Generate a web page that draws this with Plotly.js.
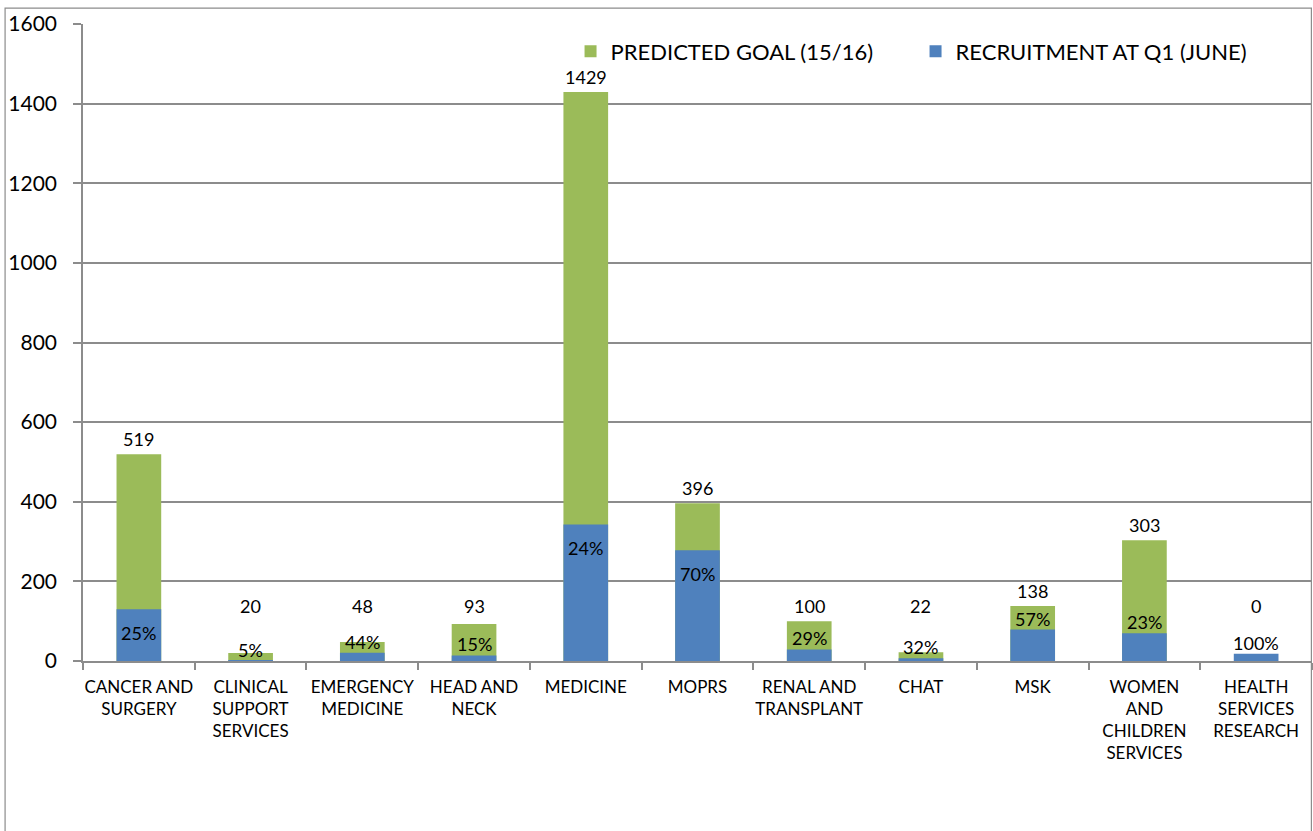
<!DOCTYPE html>
<html>
<head>
<meta charset="utf-8">
<script src="https://cdn.plot.ly/plotly-3.0.1.min.js"></script>
<style>html,body{margin:0;padding:0;background:#fff;}#chart{width:1313px;height:831px;}</style>
</head>
<body>
<div id="chart"></div>
<script>
const categories = ["CANCER AND SURGERY","CLINICAL SUPPORT SERVICES","EMERGENCY MEDICINE","HEAD AND NECK","MEDICINE","MOPRS","RENAL AND TRANSPLANT","CHAT","MSK","WOMEN AND CHILDREN SERVICES","HEALTH SERVICES RESEARCH"];
const tickLabels = ["CANCER AND<br>SURGERY","CLINICAL<br>SUPPORT<br>SERVICES","EMERGENCY<br>MEDICINE","HEAD AND<br>NECK","MEDICINE","MOPRS","RENAL AND<br>TRANSPLANT","CHAT","MSK","WOMEN<br>AND<br>CHILDREN<br>SERVICES","HEALTH<br>SERVICES<br>RESEARCH"];
const predictedGoal = [519, 20, 48, 93, 1429, 396, 100, 22, 138, 303, 0];
const recruitmentQ1 = [130, 1, 21, 14, 343, 278, 29, 7, 79, 70, 18];
const percentLabels = ["25%","5%","44%","15%","24%","70%","29%","32%","57%","23%","100%"];

const GREEN = "#9BBB59", BLUE = "#4F81BD";
const FONT = "Lato, 'Open Sans', sans-serif";

const traces = [
  {type:"bar", name:"PREDICTED GOAL (15/16)", x:categories, y:predictedGoal, width:0.4,
   marker:{color:GREEN}, hoverinfo:"x+y"},
  {type:"bar", name:"RECRUITMENT AT Q1 (JUNE)", x:categories, y:recruitmentQ1, width:0.4,
   marker:{color:BLUE}, hoverinfo:"x+y"}
];

const annotations = [];
categories.forEach((c, i) => {
  annotations.push({x:c, y:Math.max(predictedGoal[i], 100), text:String(predictedGoal[i]),
    showarrow:false, yanchor:"bottom", yshift:2, font:{family:FONT, size:18, color:"#000"}});
  const big = recruitmentQ1[i] >= 100;
  annotations.push({x:c, y:recruitmentQ1[i], text:percentLabels[i], showarrow:false,
    yanchor: big ? "top" : "middle", yshift: big ? -11 : 11,
    font:{family:FONT, size:18, color:"#000"}});
});

const layout = {
  width:1313, height:831,
  margin:{l:83, r:1, t:24, b:170},
  barmode:"overlay",
  paper_bgcolor:"#fff", plot_bgcolor:"#fff",
  font:{family:FONT, color:"#000"},
  showlegend:true,
  legend:{orientation:"h", x:0.3967, xanchor:"left", y:0.957, yanchor:"middle",
    entrywidth:300, entrywidthmode:"pixels",
    font:{family:FONT, size:22, color:"#000"}, bgcolor:"rgba(0,0,0,0)", traceorder:"normal"},
  xaxis:{type:"category", categoryorder:"array", categoryarray:categories,
    tickvals:categories, ticktext:tickLabels, tickson:"boundaries",
    ticks:"outside", ticklen:7, tickcolor:"#8c8c8c", tickwidth:1.5, ticklabelstandoff:10,
    showline:true, linecolor:"#8c8c8c", linewidth:1.5, showgrid:false,
    tickfont:{family:FONT, size:17, color:"#000"}, tickangle:0, automargin:false},
  yaxis:{range:[0,1600], dtick:200, tick0:0, showgrid:true, gridcolor:"#8c8c8c", gridwidth:1.5,
    zeroline:false, showline:true, linecolor:"#8c8c8c", linewidth:1.5,
    ticks:"outside", ticklen:8, tickcolor:"#8c8c8c", tickwidth:1.5, ticklabelstandoff:12,
    tickfont:{family:FONT, size:21, color:"#000"}, automargin:false},
  shapes:[{type:"rect", xref:"paper", yref:"paper", x0:-0.0634, x1:0.9995, y0:-0.4, y1:1.025,
    line:{color:"#8c8c8c", width:1.2}, fillcolor:"rgba(0,0,0,0)", layer:"below"}],
  annotations:annotations
};

Plotly.newPlot("chart", traces, layout, {displayModeBar:false, responsive:false});
</script>
</body>
</html>
